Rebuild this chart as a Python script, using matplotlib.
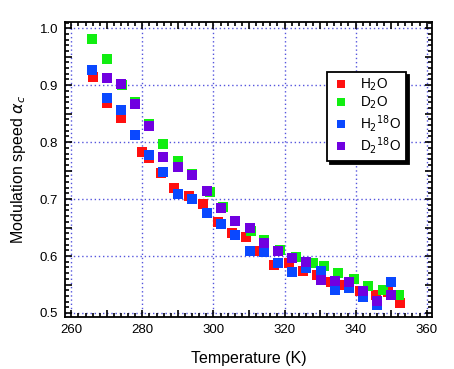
import matplotlib
matplotlib.use("Agg")
import matplotlib.pyplot as plt
from matplotlib.ticker import MultipleLocator, FuncFormatter

plt.rcParams["font.family"] = ["Liberation Sans", "DejaVu Sans"]

# H2O
t_h2o = [266.0, 270.1, 274.1, 280.0, 282.0, 285.1, 289.0, 293.0, 297.0, 301.2,
         305.1, 309.1, 313.0, 317.0, 321.2, 325.1, 329.1, 333.0, 337.0, 341.2,
         345.7, 349.1, 352.5]
a_h2o = [0.914, 0.868, 0.842, 0.782, 0.773, 0.746, 0.719, 0.705, 0.691, 0.660,
         0.640, 0.633, 0.609, 0.584, 0.588, 0.574, 0.567, 0.554, 0.549, 0.539,
         0.532, 0.537, 0.518]

# D2O
t_d2o = [265.9, 270.1, 274.4, 278.0, 282.0, 285.9, 290.1, 294.1, 298.9, 302.6,
         310.5, 314.1, 318.6, 323.2, 327.9, 331.0, 335.0, 339.5, 343.4, 347.6,
         352.3]
a_d2o = [0.981, 0.946, 0.900, 0.870, 0.832, 0.797, 0.767, 0.744, 0.712, 0.686,
         0.644, 0.628, 0.611, 0.598, 0.588, 0.582, 0.570, 0.560, 0.547, 0.540,
         0.532]

# H2 18O
t_h218o = [265.9, 270.1, 274.1, 278.0, 282.0, 285.9, 290.1, 294.1, 298.1, 302.0,
           306.0, 310.2, 314.1, 318.1, 322.0, 326.0, 330.2, 334.1, 338.1, 342.0,
           346.0, 350.1]
a_h218o = [0.926, 0.877, 0.856, 0.812, 0.777, 0.747, 0.709, 0.700, 0.675, 0.656,
           0.637, 0.609, 0.607, 0.588, 0.572, 0.579, 0.574, 0.540, 0.544, 0.528,
           0.514, 0.554]

# D2 18O
t_d218o = [270.1, 274.1, 278.0, 282.0, 285.9, 290.1, 294.1, 298.1, 302.0, 306.0,
           310.2, 314.1, 318.1, 322.0, 326.0, 330.2, 334.1, 338.1, 342.0, 346.0,
           350.1]
a_d218o = [0.912, 0.902, 0.867, 0.828, 0.774, 0.756, 0.742, 0.714, 0.684, 0.661,
           0.649, 0.623, 0.609, 0.596, 0.589, 0.558, 0.556, 0.554, 0.539, 0.521,
           0.532]

series = [
    (t_h2o, a_h2o, "#ff1010", r"H$_2$O"),
    (t_d2o, a_d2o, "#11ee11", r"D$_2$O"),
    (t_h218o, a_h218o, "#0a48ff", r"H$_2$$^{18}$O"),
    (t_d218o, a_d218o, "#7000e0", r"D$_2$$^{18}$O"),
]

fig = plt.figure(figsize=(4.54, 3.69), dpi=100)
ax = fig.add_axes([0.143, 0.141, 0.8085, 0.7995])

grid_kw = dict(color="#5555dd", linestyle=(0, (1, 2)), linewidth=1.0, zorder=0)
for x in range(260, 361, 20):
    ax.axvline(x, **grid_kw)
for y in [0.5, 0.6, 0.7, 0.8, 0.9, 1.0]:
    ax.axhline(y, **grid_kw)

for t, a, c, lab in series:
    ax.plot(t, a, linestyle="none", marker="s", markersize=6.6,
            markeredgewidth=0, color=c, label=lab, zorder=3)

ax.set_xlim(258.2, 361.5)
ax.set_ylim(0.493, 1.011)

ax.xaxis.set_major_locator(MultipleLocator(10))
ax.xaxis.set_minor_locator(MultipleLocator(2))
ax.yaxis.set_major_locator(MultipleLocator(0.05))
ax.yaxis.set_minor_locator(MultipleLocator(0.01))
ax.xaxis.set_major_formatter(FuncFormatter(
    lambda v, p: f"{v:.0f}" if round(v) % 20 == 0 else ""))
ax.yaxis.set_major_formatter(FuncFormatter(
    lambda v, p: f"{v:.1f}" if abs(round(v * 100)) % 10 == 0 else ""))

ax.tick_params(which="both", direction="in", top=True, right=True,
               labelsize=9.5, width=1.2)
ax.tick_params(which="major", length=5, pad=5)
ax.tick_params(which="minor", length=3)
for s in ax.spines.values():
    s.set_linewidth(1.3)

ax.set_xlabel("Temperature (K)", fontsize=11.5, labelpad=11)
ax.set_ylabel(r"Modulation speed $\alpha_c$", fontsize=11.5, labelpad=8)

leg = ax.legend(loc="upper left", bbox_to_anchor=(0.720, 0.805),
                bbox_transform=fig.transFigure, fancybox=False,
                shadow={"color": "black", "alpha": 1.0},
                edgecolor="black", framealpha=1, fontsize=9.8,
                handlelength=1.4, handletextpad=0.7, borderpad=0.35,
                labelspacing=0.12, borderaxespad=0, markerscale=0.9)
leg.get_frame().set_linewidth(1.3)

fig.savefig("out.png", dpi=100)
